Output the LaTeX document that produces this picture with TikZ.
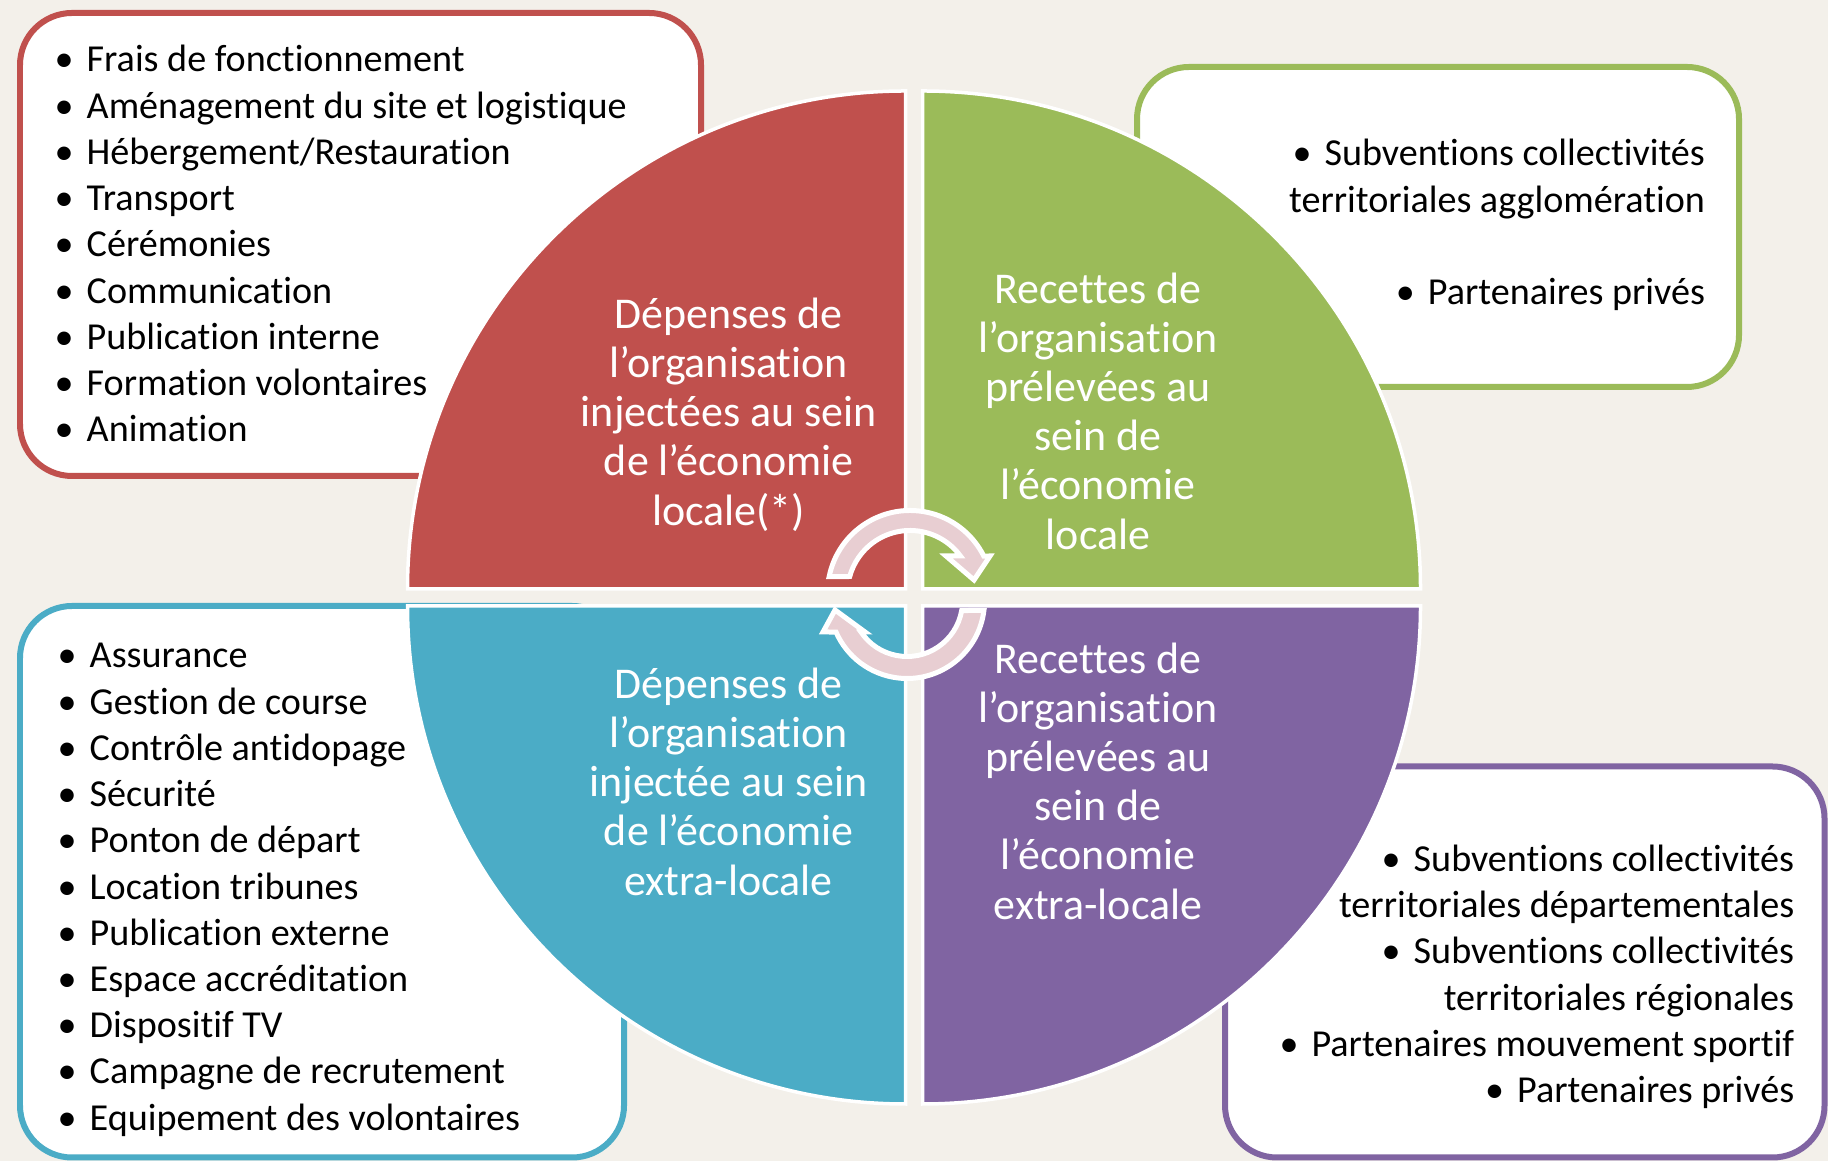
\documentclass[tikz,border=0pt]{standalone}
\usepackage{fontspec}
\setmainfont{Carlito}[Ligatures=NoCommon]

\definecolor{redq}{HTML}{C0504D}
\definecolor{greenq}{HTML}{9BBB59}
\definecolor{blueq}{HTML}{4BACC6}
\definecolor{purpleq}{HTML}{8064A2}
\definecolor{bgbeige}{HTML}{F3F0EA}
\definecolor{arrowpink}{HTML}{E8CED2}

\newcommand{\itm}[1]{\makebox[0.32cm][l]{•}#1}
\newcommand{\listfont}{\fontsize{10.85pt}{13.15pt}\selectfont}

\begin{document}
\begin{tikzpicture}[
    box/.style={draw=#1, fill=white, line width=0.06cm, rounded corners=0.52cm},
    quad/.style={fill=#1, draw=white, line width=0.035cm},
    quadtext/.style={align=center, text=white, inner sep=0pt, font=\fontsize{12.5pt}{14pt}\selectfont},
    itemlist/.style={inner sep=0pt, font=\listfont},
    turn/.style={fill=arrowpink, draw=white, line width=0.05cm}
  ]
  \useasboundingbox (0,0) rectangle (18.28,11.61);
  \fill[bgbeige] (0,0) rectangle (18.28,11.61);

  % boxes behind the circle
  \draw[box=redq] (0.20,6.85) rectangle (7.01,11.48);
  \draw[box=greenq] (11.37,7.74) rectangle (17.39,10.94);
  \draw[box=blueq] (0.20,0.035) rectangle (6.24,5.55);
  \draw[box=purpleq] (12.25,0.035) rectangle (18.245,3.945);

  \node[itemlist, anchor=base west] (deplocal) at (0.54,10.89) {\begin{minipage}[t]{6.6cm}
      \itm{Frais de fonctionnement}\\
      \itm{Aménagement du site et logistique}\\
      \itm{Hébergement/Restauration}\\
      \itm{Transport}\\
      \itm{Cérémonies}\\
      \itm{Communication}\\
      \itm{Publication interne}\\
      \itm{Formation volontaires}\\
      \itm{Animation}
    \end{minipage}};
  \node[itemlist, anchor=base west] (depextra) at (0.57,4.93) {\begin{minipage}[t]{6cm}
      \itm{Assurance}\\
      \itm{Gestion de course}\\
      \itm{Contrôle antidopage}\\
      \itm{Sécurité}\\
      \itm{Ponton de départ}\\
      \itm{Location tribunes}\\
      \itm{Publication externe}\\
      \itm{Espace accréditation}\\
      \itm{Dispositif TV}\\
      \itm{Campagne de recrutement}\\
      \itm{Equipement des volontaires}
    \end{minipage}};
  \node[itemlist, anchor=base east] (reclocal) at (17.056,9.95) {\begin{minipage}[t]{5.5cm}\raggedleft
      \itm{Subventions collectivités}\\
      territoriales agglomération\\[\baselineskip]
      \itm{Partenaires privés}
    \end{minipage}};
  \node[itemlist, anchor=base east] (recextra) at (17.948,2.895) {\begin{minipage}[t]{6cm}\raggedleft
      \itm{Subventions collectivités}\\
      territoriales départementales\\
      \itm{Subventions collectivités}\\
      territoriales régionales\\
      \itm{Partenaires mouvement sportif}\\
      \itm{Partenaires privés}
    \end{minipage}};

  % the four quarters
  \begin{scope}[shift={(9.14,5.635)}]
    \draw[quad=redq] (-0.085,0.085) -- ++(-4.98,0) arc[start angle=180, end angle=90, radius=4.98cm] -- cycle;
    \draw[quad=greenq] (0.085,0.085) -- ++(0,4.98) arc[start angle=90, end angle=0, radius=4.98cm] -- cycle;
    \draw[quad=purpleq] (0.085,-0.085) -- ++(4.98,0) arc[start angle=0, end angle=-90, radius=4.98cm] -- cycle;
    \draw[quad=blueq] (-0.085,-0.085) -- ++(0,-4.98) arc[start angle=-90, end angle=-180, radius=4.98cm] -- cycle;
  \end{scope}

  \node[quadtext] (q1) at (7.286,7.465) {Dépenses de\\l’organisation\\injectées au sein\\de l’économie\\locale(*)};
  \node[quadtext] (q2) at (10.98,7.50) {Recettes de\\l’organisation\\prélevées au\\sein de\\l’économie\\locale};
  \node[quadtext] (q3) at (7.286,3.793) {Dépenses de\\l’organisation\\injectée au sein\\de l’économie\\extra-locale};
  \node[quadtext] (q4) at (10.98,3.80) {Recettes de\\l’organisation\\prélevées au\\sein de\\l’économie\\extra-locale};

  % circular arrows in the middle
  \begin{scope}[shift={(9.10,5.68)}, x=0.1mm, y=0.1mm]
    \draw[turn] (168.5:0.825cm) arc[start angle=168.5, end angle=26.6, radius=0.825cm]
      -- (80,37) -- (64,13) -- (36,37) -- (36.3:0.625cm)
      arc[start angle=36.3, end angle=164.7, radius=0.625cm] -- cycle;
  \end{scope}
  \begin{scope}[shift={(9.07,5.60)}, x=0.1mm, y=0.1mm]
    \draw[turn] (-7:0.775cm) arc[start angle=-7, end angle=-156.4, radius=0.775cm]
      -- (-84,-31) -- (-72,-9) -- (-42,-31) -- (-146:0.555cm)
      arc[start angle=-146, end angle=-9.9, radius=0.555cm] -- cycle;
  \end{scope}
\end{tikzpicture}
\end{document}
